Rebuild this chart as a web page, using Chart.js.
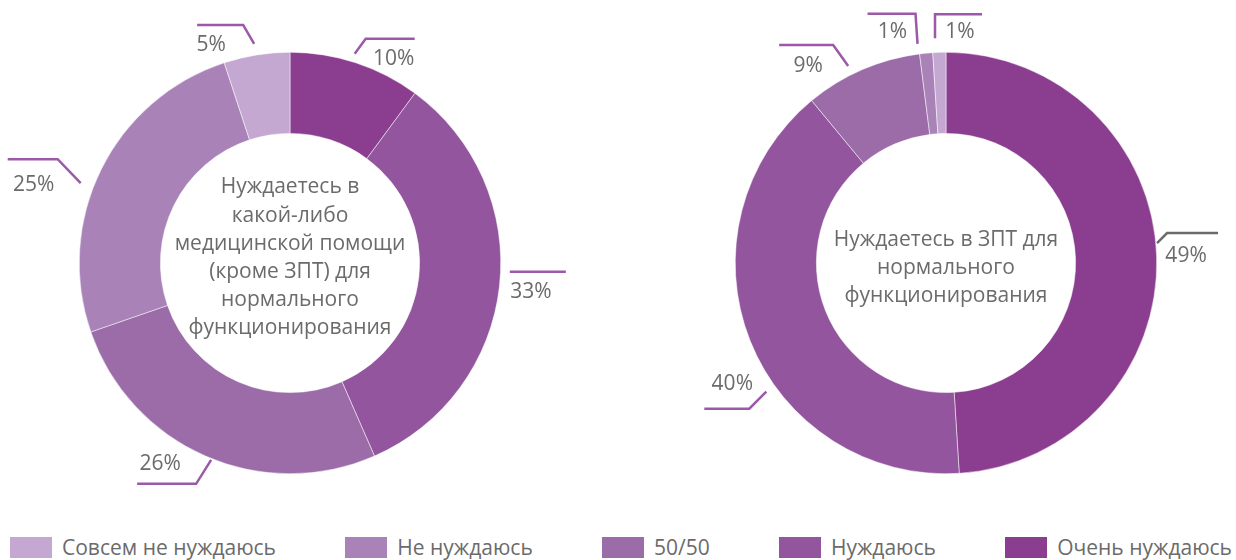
<!DOCTYPE html>
<html>
<head>
<meta charset="utf-8">
<script src="https://cdn.jsdelivr.net/npm/chart.js@4/dist/chart.umd.min.js"></script>
<style>
  html, body { margin: 0; padding: 0; background: #fff; }
  body { width: 1236px; height: 560px; position: relative; overflow: hidden; font-family: "Open Sans", sans-serif; }
  .box { position: absolute; top: 0; height: 526px; }
  #leftBox { left: 0; width: 580px; }
  #rightBox { left: 618px; width: 618px; }
  #legend { position: absolute; left: 10px; right: 4px; top: 537px; height: 21px; display: flex; justify-content: space-between; }
  .item { display: flex; align-items: center; font-size: 21px; line-height: 21px; color: #6b6b6b; white-space: nowrap; }
  .swatch { width: 42px; height: 21px; margin-right: 10px; }
</style>
</head>
<body>
<div class="box" id="leftBox"><canvas id="leftChart"></canvas></div>
<div class="box" id="rightBox"><canvas id="rightChart"></canvas></div>
<div id="legend"></div>
<script>
// categories in drawing order (clockwise from the top)
const categories = ['Очень нуждаюсь', 'Нуждаюсь', '50/50', 'Не нуждаюсь', 'Совсем не нуждаюсь'];
const otherHelpValues = [10, 33, 26, 25, 5];   // left doughnut, %
const zptValues = [49, 40, 9, 1, 1];           // right doughnut, %
const leftTitle = ['Нуждаетесь в', 'какой-либо', 'медицинской помощи', '(кроме ЗПТ) для', 'нормального', 'функционирования'];
const rightTitle = ['Нуждаетесь в ЗПТ для', 'нормального', 'функционирования'];

const colors = ['#8b3d8f', '#92559e', '#9b6ca8', '#a982b8', '#c4a8d2'];
const textColor = '#6b6b6b';
const leaderColor = '#9b59a8';

// leader line layout per slice: angle nudge (deg), start radius, elbow offset, horizontal run, text offset
const leftLabelLayout = [
  { nudge: -1, r: 219, ex: 11, ey: -15, hx: 49, tx: 28, ty: 20 },
  { nudge: -4.1, r: 220, ex: 0, ey: 0, hx: 56, tx: 21, ty: 20 },
  { nudge: -1.8, r: 212, ex: -15, ey: 24, hx: -59, tx: -36, ty: -20 },
  { nudge: -5.5, r: 224, ex: -23, ey: -24, hx: -50, tx: -24, ty: 26 },
  { nudge: -0.2, r: 222, ex: -11, ey: -19, hx: -46, tx: -32, ty: 20 }
];
const rightLabelLayout = [
  { nudge: -3.6, r: 212, ex: 10, ey: -10, hx: 51, tx: 19, ty: 23, color: '#6b6b6b' },
  { nudge: -14, r: 221, ex: -17, ey: 17, hx: -45, tx: -17, ty: -25 },
  { nudge: -3, r: 220, ex: -15, ey: -21, hx: -54, tx: -25, ty: 21 },
  { nudge: -2, r: 221, ex: -2, ey: -30, hx: -48, tx: -23, ty: 18 },
  { nudge: -1, r: 225, ex: 0, ey: -24, hx: 47, tx: 25, ty: 18 }
];

const labelPlugin = {
  id: 'leaderLabels',
  afterDraw(chart, args, opts) {
    const ctx = chart.ctx;
    const meta = chart.getDatasetMeta(0);
    const values = chart.data.datasets[0].data;
    ctx.save();
    meta.data.forEach((arc, i) => {
      const lay = opts.layout[i];
      const a = (arc.startAngle + arc.endAngle) / 2 + lay.nudge * Math.PI / 180;
      const sx = arc.x + lay.r * Math.cos(a);
      const sy = arc.y + lay.r * Math.sin(a);
      const ex = sx + lay.ex, ey = sy + lay.ey;
      ctx.strokeStyle = lay.color || leaderColor;
      ctx.lineWidth = 2.5;
      ctx.beginPath();
      ctx.moveTo(sx, sy);
      ctx.lineTo(ex, ey);
      ctx.lineTo(ex + lay.hx, ey);
      ctx.stroke();
      ctx.fillStyle = textColor;
      ctx.font = '21px "Open Sans"';
      ctx.textAlign = 'center';
      ctx.textBaseline = 'middle';
      ctx.fillText(values[i] + '%', ex + lay.tx, ey + lay.ty);
    });
    // centre text
    const c = meta.data[0];
    ctx.font = '21px "Open Sans"';
    const lh = 28.2;
    const y0 = c.y + opts.titleShift - (opts.title.length - 1) * lh / 2;
    opts.title.forEach((line, k) => ctx.fillText(line, c.x, y0 + k * lh));
    ctx.restore();
  }
};

function makeChart(id, values, pad, layout, title, titleShift) {
  new Chart(document.getElementById(id), {
    type: 'doughnut',
    data: {
      labels: categories,
      datasets: [{ data: values, backgroundColor: colors, borderColor: '#fff', borderWidth: 0.5 }]
    },
    options: {
      responsive: true,
      maintainAspectRatio: false,
      animation: false,
      cutout: '61.5%',
      layout: { padding: pad },
      plugins: {
        legend: { display: false },
        tooltip: { enabled: false },
        leaderLabels: { layout: layout, title: title, titleShift: titleShift }
      }
    },
    plugins: [labelPlugin]
  });
}

makeChart('leftChart', otherHelpValues, { top: 52, bottom: 52, left: 79, right: 79 }, leftLabelLayout, leftTitle, -5);
makeChart('rightChart', zptValues, { top: 52, bottom: 52, left: 117, right: 79 }, rightLabelLayout, rightTitle, 5);

// legend, lightest first
const legend = document.getElementById('legend');
categories.slice().reverse().forEach((name, k) => {
  const item = document.createElement('div');
  item.className = 'item';
  item.innerHTML = '<span class="swatch" style="background:' + colors[colors.length - 1 - k] + '"></span>' + name;
  legend.appendChild(item);
});
</script>
</body>
</html>
